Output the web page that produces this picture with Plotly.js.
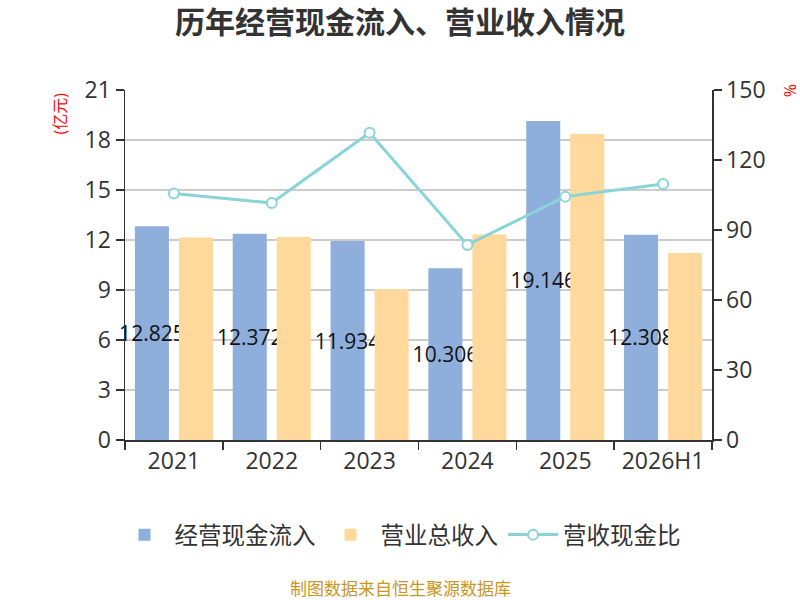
<!DOCTYPE html>
<html>
<head>
<meta charset="utf-8">
<script src="https://cdn.plot.ly/plotly-3.0.1.min.js"></script>
<style>
  body { margin: 0; background: #fff; }
  #graphe { width: 800px; height: 600px; }
</style>
</head>
<body>
<div id="graphe"></div>
<script>
// données
let annees = ["2021", "2022", "2023", "2024", "2025", "2026H1"]
let flux_tresorerie = [12.825, 12.372, 11.934, 10.306, 19.146, 12.308]   // 经营现金流入 (亿元)
let revenus = [12.15, 12.18, 9.06, 12.33, 18.36, 11.22]                  // 营业总收入 (亿元)
let ratio = [105.6, 101.6, 131.7, 83.6, 104.3, 109.7]                    // 营收现金比 (%)
let etiquettes = flux_tresorerie.map(v => v.toFixed(3))

let police = "Open Sans, Noto Sans CJK SC, sans-serif"

let data = [
    {x: annees, y: flux_tresorerie, type: "bar", name: "经营现金流入",
        marker: {color: "#8eaedb"},
        text: etiquettes, textposition: "inside", insidetextanchor: "middle",
        textangle: 0, constraintext: "none", cliponaxis: false,
        textfont: {size: 21, color: "#111", family: police},
        hoverinfo: "none"},
    {x: annees, y: revenus, type: "bar", name: "营业总收入",
        marker: {color: "#ffd99b"}, hoverinfo: "none"},
    {x: annees, y: ratio, type: "scatter", mode: "lines+markers", name: "营收现金比",
        yaxis: "y2", line: {color: "#88d4d7", width: 3},
        marker: {size: 10, color: "#fff", line: {color: "#88d4d7", width: 2}},
        hoverinfo: "none"}
]

let layout = {
    width: 800,
    height: 600,
    font: {family: police, color: "#333"},
    title: {
        text: "<b>历年经营现金流入、营业收入情况</b>",
        x: 0.5, xanchor: "center", y: 0.963, yanchor: "middle",
        font: {size: 30, color: "#333", family: police}
    },
    margin: {l: 125, r: 88, t: 90, b: 160},
    bargap: 0.1,
    bargroupgap: 0.227,
    xaxis: {
        type: "category",
        tickson: "boundaries",
        ticks: "outside", ticklen: 8, tickcolor: "#333", tickwidth: 1.5,
        showline: true, linecolor: "#333", linewidth: 1.5,
        showgrid: false,
        tickfont: {size: 23, color: "#333"}
    },
    yaxis: {
        range: [0, 21], dtick: 3,
        ticks: "outside", ticklen: 8, tickcolor: "#333", tickwidth: 1.5,
        showline: true, linecolor: "#333", linewidth: 1.5,
        gridcolor: "#cccccc", gridwidth: 1.5,
        zeroline: false,
        tickfont: {size: 23, color: "#333"}
    },
    yaxis2: {
        range: [0, 150], dtick: 30,
        overlaying: "y", side: "right",
        ticks: "outside", ticklen: 8, tickcolor: "#333", tickwidth: 1.5,
        showline: true, linecolor: "#333", linewidth: 1.5,
        showgrid: false, zeroline: false,
        tickfont: {size: 23, color: "#333"}
    },
    showlegend: true,
    legend: {
        orientation: "h",
        x: 0.4685, xanchor: "center",
        y: -0.271, yanchor: "middle",
        font: {size: 23.5, color: "#333"},
        itemwidth: 50
    },
    annotations: [
        {text: "(亿元)", xref: "paper", yref: "paper", x: -0.11, y: 1.0,
            xanchor: "center", yanchor: "top", textangle: -90, showarrow: false,
            font: {size: 16, color: "red"}},
        {text: "%", xref: "paper", yref: "paper", x: 1.133, y: 1.0,
            xanchor: "center", yanchor: "middle", textangle: 90, showarrow: false,
            font: {size: 16, color: "red"}},
        {text: "制图数据来自恒生聚源数据库", xref: "paper", yref: "paper", x: 0.4685, y: -0.425,
            xanchor: "center", yanchor: "middle", showarrow: false,
            font: {size: 17, color: "#c9961f"}}
    ]
}

Plotly.newPlot("graphe", data, layout, {staticPlot: true})
</script>
</body>
</html>
